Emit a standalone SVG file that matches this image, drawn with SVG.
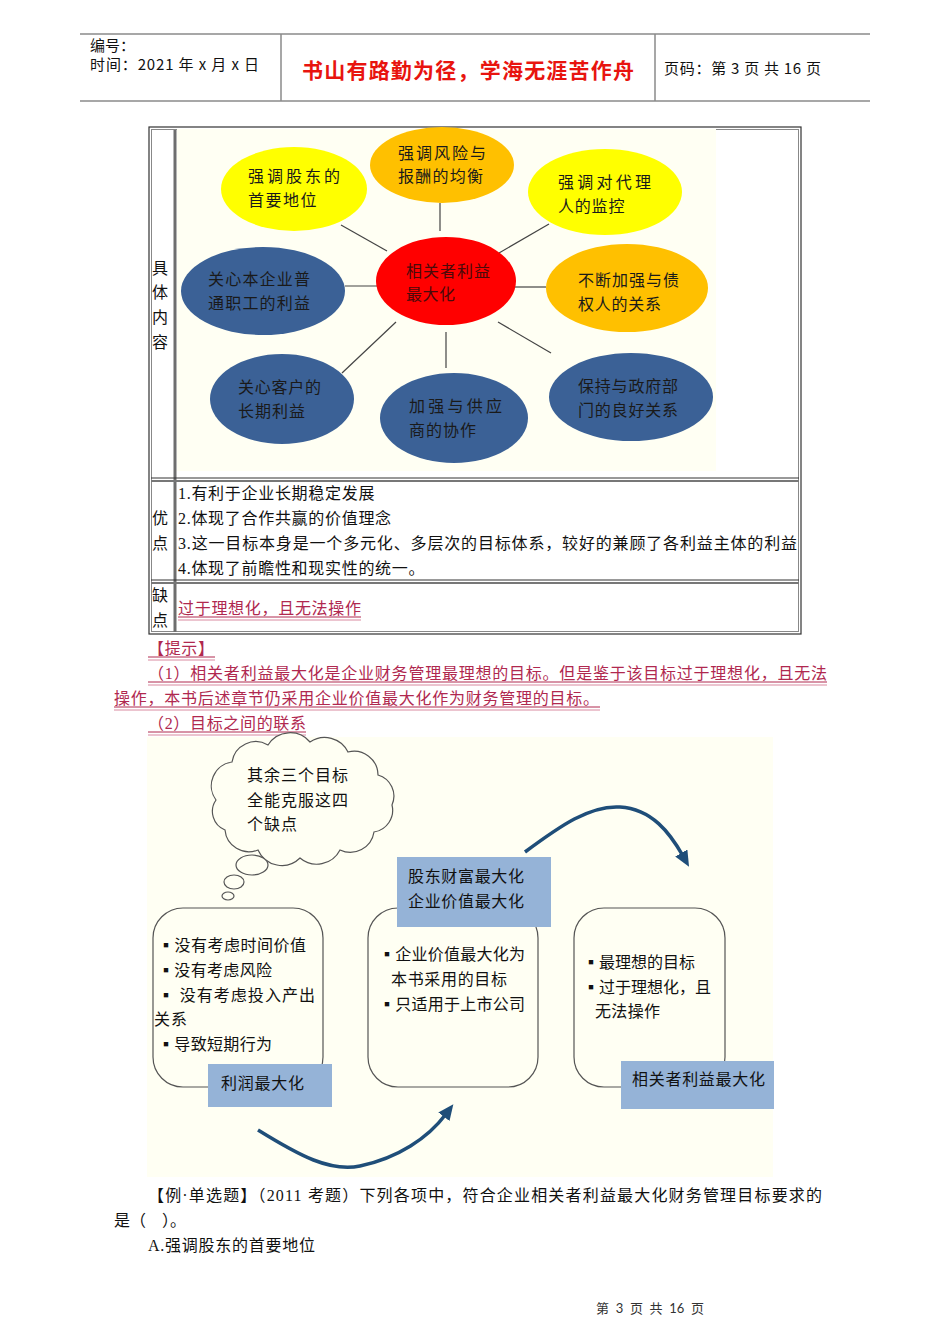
<svg xmlns="http://www.w3.org/2000/svg" width="950" height="1344" viewBox="0 0 950 1344">
<style>
.sans{font-family:"Noto Sans CJK SC","Liberation Sans",sans-serif;}
.serif{font-family:"Liberation Serif","Noto Sans CJK SC",serif;}
.el{font-family:"Noto Sans CJK SC","Liberation Sans",sans-serif;font-size:16px;fill:#1a1a1a;}
.conn{stroke:#444;stroke-width:1.2;fill:none;}
.body{font-family:"Liberation Serif","Noto Sans CJK SC",serif;font-size:16px;fill:#111;}
.red{font-family:"Liberation Serif","Noto Sans CJK SC",serif;font-size:16px;fill:#b0284f;}
.ul{stroke:#b0284f;stroke-width:1;}
.ul2{stroke:#d98aa0;stroke-width:1;}
.box{fill:none;stroke:#555;stroke-width:1.2;}
.lab{fill:#95b3d7;}
.bt{font-family:"Noto Sans CJK SC","Liberation Sans",sans-serif;font-size:16px;fill:#111;}
.arrow{fill:none;stroke:#1f4e79;stroke-width:3.5;}
</style>
<defs>
<marker id="ah" markerWidth="4.5" markerHeight="4" refX="1" refY="2" orient="auto" markerUnits="strokeWidth">
<path d="M0,0 L4.5,2 L0,4 Z" fill="#1f4e79"/>
</marker>
</defs>
<rect width="950" height="1344" fill="#ffffff"/>

<!-- header -->
<g id="header">
<line x1="80" y1="34" x2="870" y2="34" stroke="#8a8a8a" stroke-width="1.5"/>
<line x1="80" y1="101" x2="870" y2="101" stroke="#8a8a8a" stroke-width="1.5"/>
<line x1="281" y1="34" x2="281" y2="101" stroke="#8a8a8a" stroke-width="1.5"/>
<line x1="655" y1="34" x2="655" y2="101" stroke="#8a8a8a" stroke-width="1.5"/>
<text class="sans" x="90" y="51" font-size="15" fill="#111">编号：</text>
<text class="sans" x="90" y="70" font-size="15" fill="#111" textLength="169">时间：2021 年 x 月 x 日</text>
<text class="sans" x="302" y="78" font-size="21" font-weight="bold" fill="#e8140f" textLength="332">书山有路勤为径，学海无涯苦作舟</text>
<text class="sans" x="664" y="74" font-size="15" fill="#111" textLength="157">页码：第 3 页 共 16 页</text>
</g>

<!-- table -->
<g id="table">
<rect x="149" y="127" width="652" height="507" fill="none" stroke="#333" stroke-width="1.2"/>
<rect x="151.5" y="129.5" width="647" height="502" fill="none" stroke="#888" stroke-width="1"/>
<rect x="177" y="129" width="539" height="342" fill="#fffff3"/>
<line x1="175" y1="130" x2="175" y2="632" stroke="#6e6e6e" stroke-width="3"/>
<line x1="151" y1="478" x2="799" y2="478" stroke="#333" stroke-width="1"/>
<line x1="151" y1="481" x2="799" y2="481" stroke="#777" stroke-width="2"/>
<line x1="151" y1="580" x2="799" y2="580" stroke="#333" stroke-width="1"/>
<line x1="151" y1="583" x2="799" y2="583" stroke="#777" stroke-width="2"/>
<g class="serif" font-size="16" fill="#111">
<text x="152" y="274">具</text>
<text x="152" y="298">体</text>
<text x="152" y="323">内</text>
<text x="152" y="348">容</text>
<text x="152" y="524">优</text>
<text x="152" y="549">点</text>
<text x="152" y="601">缺</text>
<text x="152" y="626">点</text>
</g>
<text class="body" x="178" y="499" letter-spacing="0.7">1.有利于企业长期稳定发展</text>
<text class="body" x="178" y="524" letter-spacing="0.7">2.体现了合作共赢的价值理念</text>
<text class="body" x="178" y="549" textLength="619">3.这一目标本身是一个多元化、多层次的目标体系，较好的兼顾了各利益主体的利益</text>
<text class="body" x="178" y="574" letter-spacing="0.7">4.体现了前瞻性和现实性的统一。</text>
<text class="red" x="178" y="614" textLength="183">过于理想化，且无法操作</text>
<line class="ul" x1="178" y1="617" x2="361" y2="617"/>
<line class="ul2" x1="178" y1="620" x2="361" y2="620"/>
</g>

<!-- lower diagram background -->
<rect x="147" y="737" width="626" height="440" fill="#fffff3"/>

<!-- connectors -->
<g id="connectors">
<line class="conn" x1="341" y1="225" x2="387" y2="251"/>
<line class="conn" x1="440" y1="203" x2="440" y2="231"/>
<line class="conn" x1="549" y1="224" x2="499" y2="253"/>
<line class="conn" x1="345" y1="286" x2="378" y2="286"/>
<line class="conn" x1="515" y1="287" x2="546" y2="287"/>
<line class="conn" x1="396" y1="322" x2="342" y2="373"/>
<line class="conn" x1="446" y1="332" x2="446" y2="368"/>
<line class="conn" x1="498" y1="322" x2="551" y2="353"/>
<path class="arrow" d="M525,852 C560,826 590,805 620,807 C652,809 670,833 683,856" marker-end="url(#ah)"/>
<path class="arrow" d="M258,1130 C300,1156 330,1172 360,1166 C398,1158 428,1138 446,1114" marker-end="url(#ah)"/>
</g>

<g id="n1"><ellipse cx="294" cy="189" rx="73" ry="42" fill="#ffff00"/>
<text class="el" x="248" y="182" textLength="92">强调股东的</text><text class="el" x="248" y="206" letter-spacing="1.5">首要地位</text></g>
<g id="n2"><ellipse cx="442" cy="165" rx="72" ry="38" fill="#ffc000"/>
<text class="el" x="398" y="159" textLength="88">强调风险与</text><text class="el" x="398" y="182" textLength="85">报酬的均衡</text></g>
<g id="n3"><ellipse cx="605" cy="192" rx="77" ry="43" fill="#ffff00"/>
<text class="el" x="558" y="188" textLength="93">强调对代理</text><text class="el" x="558" y="212" letter-spacing="0.8">人的监控</text></g>
<g id="n4"><ellipse cx="446" cy="281" rx="70" ry="44" fill="#ff0000"/>
<text class="el" x="406" y="277" textLength="84" style="fill:#4a0a0a">相关者利益</text><text class="el" x="406" y="300" style="fill:#4a0a0a" letter-spacing="0.5">最大化</text></g>
<g id="n5"><ellipse cx="263" cy="291" rx="82" ry="44" fill="#3b6196"/>
<text class="el" x="208" y="285" textLength="102">关心本企业普</text><text class="el" x="208" y="309" textLength="102">通职工的利益</text></g>
<g id="n6"><ellipse cx="627" cy="288" rx="81" ry="44" fill="#ffc000"/>
<text class="el" x="578" y="286" textLength="101">不断加强与债</text><text class="el" x="578" y="310" textLength="83">权人的关系</text></g>
<g id="n7"><ellipse cx="282" cy="399" rx="72" ry="45" fill="#3b6196"/>
<text class="el" x="238" y="393" textLength="83">关心客户的</text><text class="el" x="238" y="417" textLength="67">长期利益</text></g>
<g id="n8"><ellipse cx="454" cy="418" rx="74" ry="45" fill="#3b6196"/>
<text class="el" x="409" y="412" textLength="93">加强与供应</text><text class="el" x="409" y="436" textLength="67">商的协作</text></g>
<g id="n9"><ellipse cx="631" cy="397" rx="82" ry="44" fill="#3b6196"/>
<text class="el" x="578" y="392" textLength="100">保持与政府部</text><text class="el" x="578" y="416" textLength="100">门的良好关系</text></g>

<!-- tip text -->
<g id="tips">
<text class="red" x="148" y="654" textLength="66">【提示】</text>
<line class="ul" x1="148" y1="657" x2="215" y2="657"/>
<line class="ul2" x1="148" y1="660" x2="215" y2="660"/>
<text class="red" x="148" y="679" textLength="679">（1）相关者利益最大化是企业财务管理最理想的目标。但是鉴于该目标过于理想化，且无法</text>
<line class="ul" x1="148" y1="682" x2="827" y2="682"/>
<line class="ul2" x1="148" y1="685" x2="827" y2="685"/>
<text class="red" x="114" y="704" textLength="485">操作，本书后述章节仍采用企业价值最大化作为财务管理的目标。</text>
<line class="ul" x1="114" y1="707" x2="600" y2="707"/>
<line class="ul2" x1="114" y1="710" x2="600" y2="710"/>
<text class="red" x="148" y="729" textLength="158">（2）目标之间的联系</text>
<line class="ul" x1="148" y1="732" x2="306" y2="732"/>
<line class="ul2" x1="148" y1="735" x2="306" y2="735"/>
</g>

<g id="cloud">
<path d="M216,800 A24,24 0 0 1 232,762 A24,24 0 0 1 268,745 A26,26 0 0 1 310,742 A26,26 0 0 1 348,752 A24,24 0 0 1 378,775 A22,22 0 0 1 392,805 A22,22 0 0 1 374,832 A24,24 0 0 1 340,850 A26,26 0 0 1 300,858 A26,26 0 0 1 258,850 A24,24 0 0 1 225,830 A20,20 0 0 1 216,800 Z" fill="#fffff3" stroke="#555" stroke-width="1.2"/>
<ellipse cx="252" cy="865" rx="16" ry="10" fill="#fffff3" stroke="#555" stroke-width="1.2"/>
<ellipse cx="234" cy="882" rx="10" ry="7" fill="#fffff3" stroke="#555" stroke-width="1.2"/>
<ellipse cx="228" cy="896" rx="6" ry="4" fill="#fffff3" stroke="#555" stroke-width="1.2"/>
<text class="bt" x="247" y="781" textLength="101">其余三个目标</text>
<text class="bt" x="247" y="806" textLength="101">全能克服这四</text>
<text class="bt" x="247" y="830" textLength="50">个缺点</text>
</g>

<g id="box1">
<rect class="box" x="153" y="908" width="170" height="179" rx="30"/>
<rect class="lab" x="208" y="1064" width="124" height="43"/>
<text class="bt" x="221" y="1089" textLength="83">利润最大化</text>
<text class="bt" x="158" y="951" font-size="17" textLength="148">▪没有考虑时间价值</text>
<text class="bt" x="158" y="976" font-size="17" textLength="114">▪没有考虑风险</text>
<text class="bt" x="158" y="1001" font-size="17" textLength="157">▪ 没有考虑投入产出</text>
<text class="bt" x="154" y="1025" font-size="17" textLength="33">关系</text>
<text class="bt" x="158" y="1050" font-size="17" textLength="114">▪导致短期行为</text>
</g>

<g id="box2">
<rect class="box" x="368" y="908" width="170" height="179" rx="30"/>
<rect class="lab" x="397" y="857" width="154" height="70"/>
<text class="bt" x="408" y="882" textLength="116">股东财富最大化</text>
<text class="bt" x="408" y="907" textLength="116">企业价值最大化</text>
<text class="bt" x="379" y="960" textLength="146">▪企业价值最大化为</text>
<text class="bt" x="391" y="985" textLength="116">本书采用的目标</text>
<text class="bt" x="379" y="1010" textLength="146">▪只适用于上市公司</text>
</g>

<g id="box3">
<rect class="box" x="574" y="908" width="151" height="179" rx="30"/>
<rect class="lab" x="621" y="1061" width="153" height="48"/>
<text class="bt" x="632" y="1085" textLength="133">相关者利益最大化</text>
<text class="bt" x="583" y="968" textLength="112">▪最理想的目标</text>
<text class="bt" x="583" y="993" textLength="128">▪过于理想化，且</text>
<text class="bt" x="595" y="1017" textLength="65">无法操作</text>
</g>

<g id="question">
<text class="body" x="148" y="1201" textLength="674">【例·单选题】（2011 考题）下列各项中，符合企业相关者利益最大化财务管理目标要求的</text>
<text class="body" x="114" y="1226">是（</text>
<text class="body" x="162" y="1226">）。</text>
<text class="body" x="148" y="1251" textLength="167">A.强调股东的首要地位</text>
</g>

<text x="650" y="1313" text-anchor="middle" font-family="Lato,'Noto Sans CJK SC',sans-serif" font-size="13" fill="#333" xml:space="preserve">第  3  页  共  16  页</text>
</svg>
